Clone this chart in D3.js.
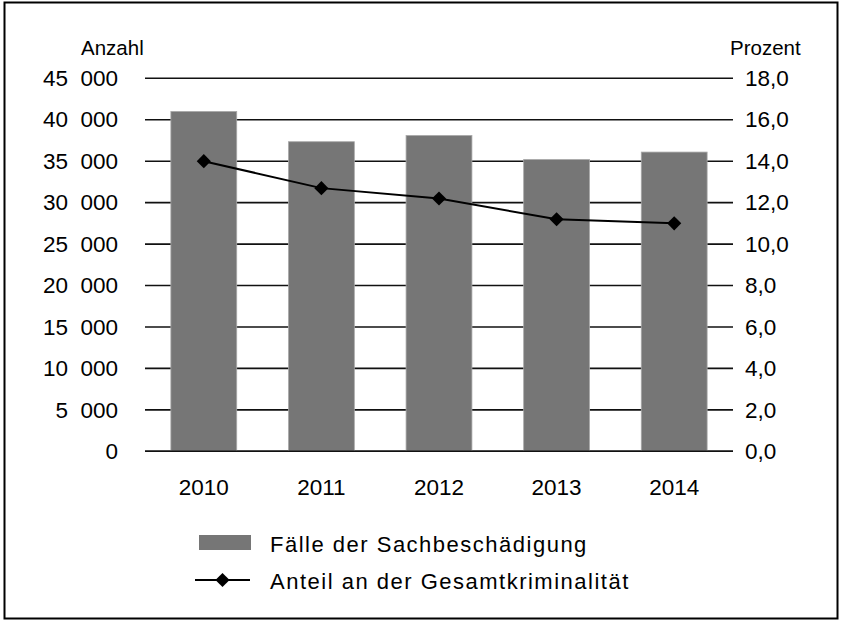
<!DOCTYPE html>
<html>
<head>
<meta charset="utf-8">
<script src="https://cdn.jsdelivr.net/npm/d3@7/dist/d3.min.js"></script>
<style>
  html, body { margin: 0; padding: 0; background: #fff; }
  svg text { font-family: "Liberation Sans", Arial, sans-serif; fill: #000; }
</style>
</head>
<body>
<svg id="chart" width="842" height="622"></svg>
<script>
// Sachbeschädigung: Fälle (linke Achse) und Anteil an der Gesamtkriminalität (rechte Achse)
const years = ["2010", "2011", "2012", "2013", "2014"];
const faelle = [41000, 37350, 38100, 35200, 36100];
const anteil = [14.0, 12.7, 12.2, 11.2, 11.0];
const leftTicks = [0, 5000, 10000, 15000, 20000, 25000, 30000, 35000, 40000, 45000];
const rightTicks = [0, 2, 4, 6, 8, 10, 12, 14, 16, 18];
const legendLabels = ["Fälle der Sachbeschädigung", "Anteil an der Gesamtkriminalität"];

const svg = d3.select("#chart");
const plot = { left: 145, right: 733, top: 78.3, bottom: 451.3 };
const tickFont = 22.5;
const titleFont = 20.5;
const legendFont = 22;

// Rahmen
svg.append("rect")
  .attr("x", 4.5).attr("y", 2.5).attr("width", 833).attr("height", 616)
  .attr("fill", "none").attr("stroke", "#000").attr("stroke-width", 2);

const x = d3.scaleBand().domain(years).range([plot.left, plot.right])
  .paddingInner(0.44).paddingOuter(0.22);
const yL = d3.scaleLinear().domain([0, 45000]).range([plot.bottom, plot.top]);
const yR = d3.scaleLinear().domain([0, 18]).range([plot.bottom, plot.top]);

// Tausendertrennzeichen als Ziffernleerzeichen, Dezimalkomma
const fmtN = d => d3.format(",")(d).replace(/,/g, "\u2007");
const fmtP = d => d3.format(".1f")(d).replace(".", ",");

// Gitternetzlinien
svg.append("g").selectAll("line").data(leftTicks).join("line")
  .attr("x1", plot.left).attr("x2", plot.right)
  .attr("y1", d => yL(d)).attr("y2", d => yL(d))
  .attr("stroke", "#111").attr("stroke-width", 1.6);

// Linke Achse
const axL = d3.axisLeft(yL).tickValues(leftTicks).tickFormat(fmtN).tickSize(0).tickPadding(27);
svg.append("g").attr("transform", `translate(${plot.left},0)`).call(axL)
  .call(g => g.select(".domain").remove())
  .selectAll("text").attr("font-size", tickFont).attr("font-family", "Liberation Sans, Arial, sans-serif");

// Rechte Achse
const axR = d3.axisRight(yR).tickValues(rightTicks).tickFormat(fmtP).tickSize(0).tickPadding(12);
svg.append("g").attr("transform", `translate(${plot.right},0)`).call(axR)
  .call(g => g.select(".domain").remove())
  .selectAll("text").attr("font-size", tickFont).attr("font-family", "Liberation Sans, Arial, sans-serif");

// Balken
svg.append("g").selectAll("rect").data(years).join("rect")
  .attr("x", d => x(d)).attr("width", x.bandwidth())
  .attr("y", (d, i) => yL(faelle[i]))
  .attr("height", (d, i) => yL(0) - yL(faelle[i]))
  .attr("fill", "#767676").attr("stroke", "#a8a8a8").attr("stroke-width", 0.8);

// x-Achse
const axX = d3.axisBottom(x).tickSize(0).tickPadding(28);
svg.append("g").attr("transform", `translate(0,${plot.bottom})`).call(axX)
  .call(g => g.select(".domain").attr("stroke", "#111").attr("stroke-width", 1.6)
    .attr("d", `M${plot.left},0H${plot.right}`))
  .selectAll("text").attr("font-size", tickFont).attr("font-family", "Liberation Sans, Arial, sans-serif");

// Linie Anteil
const line = d3.line()
  .x((d, i) => x(years[i]) + x.bandwidth() / 2)
  .y(d => yR(d));
svg.append("path").datum(anteil).attr("d", line)
  .attr("fill", "none").attr("stroke", "#000").attr("stroke-width", 2);

const diamond = d3.symbol().type(d3.symbolSquare).size(100);
svg.append("g").selectAll("path").data(anteil).join("path")
  .attr("d", diamond)
  .attr("transform", (d, i) => `translate(${x(years[i]) + x.bandwidth() / 2},${yR(d)}) rotate(45)`)
  .attr("fill", "#000");

// Achsentitel
svg.append("text").attr("x", 81).attr("y", 55).attr("font-size", titleFont).text("Anzahl");
svg.append("text").attr("x", 730).attr("y", 55).attr("font-size", titleFont).text("Prozent");

// Legende
const lg = svg.append("g");
lg.append("rect").attr("x", 199).attr("y", 535).attr("width", 52).attr("height", 15).attr("fill", "#767676");
lg.append("text").attr("x", 270).attr("y", 552).attr("font-size", legendFont)
  .attr("letter-spacing", 1.5).text(legendLabels[0]);
lg.append("line").attr("x1", 195).attr("x2", 250).attr("y1", 580).attr("y2", 580)
  .attr("stroke", "#000").attr("stroke-width", 2);
lg.append("path").attr("d", diamond).attr("transform", "translate(222.5,580) rotate(45)").attr("fill", "#000");
lg.append("text").attr("x", 270).attr("y", 589).attr("font-size", legendFont)
  .attr("letter-spacing", 1.5).text(legendLabels[1]);
</script>
</body>
</html>
